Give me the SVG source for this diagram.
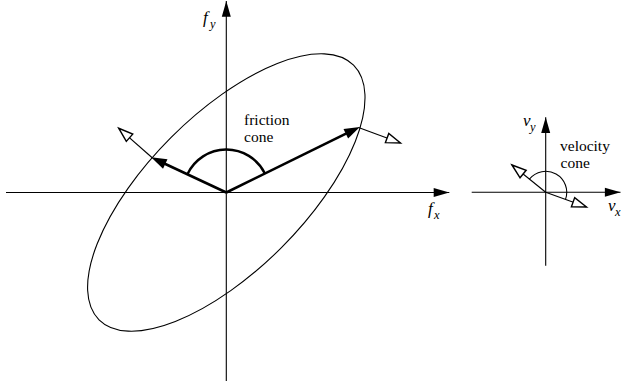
<svg xmlns="http://www.w3.org/2000/svg" width="621" height="386" viewBox="0 0 621 386">
<style>
.ln{stroke:#000;stroke-width:1.1;fill:none}
.thick{stroke:#000;stroke-width:2.6;fill:none}
.arc{stroke:#000;stroke-width:2.4;fill:none}
.txt{font-family:"Liberation Serif","Times New Roman",serif;font-size:15.5px;fill:#000}
.it{font-family:"Liberation Serif","Times New Roman",serif;font-style:italic;fill:#000}
</style>
<defs>
<marker id="axisHead" markerUnits="userSpaceOnUse" markerWidth="20" markerHeight="20" viewBox="-14 -5 16 10" refX="0" refY="0" orient="auto" overflow="visible">
<path d="M0,0 L-12.5,-3.6 L-12.5,3.6 Z" fill="#000"/>
</marker>
<marker id="thickHead" markerUnits="userSpaceOnUse" markerWidth="20" markerHeight="20" viewBox="-14 -6 16 12" refX="-6" refY="0" orient="auto" overflow="visible">
<path d="M0,0 L-12.5,-4.2 L-12.5,4.2 Z" fill="#000"/>
</marker>
<marker id="openHead" markerUnits="userSpaceOnUse" markerWidth="20" markerHeight="20" viewBox="-12 -5 14 10" refX="0" refY="0" orient="auto" overflow="visible">
<path d="M0,0 L-10,-3.4 L-10,3.4 Z" fill="#fff" stroke="#000" stroke-width="1"/>
</marker>
</defs>

<g id="friction-ellipse">
<ellipse class="ln" cx="226.3" cy="192.5" rx="180" ry="78" transform="rotate(-45 226.3 192.5)"/>
</g>

<g id="connectors">
<line id="fx-axis" class="ln" x1="6" y1="192.5" x2="449.3" y2="192.5" marker-end="url(#axisHead)"/>
<line id="fy-axis" class="ln" x1="226.3" y1="381" x2="226.3" y2="1" marker-end="url(#axisHead)"/>
<line id="cone-left" class="thick" x1="226.3" y1="192.5" x2="157.9" y2="160.5" marker-end="url(#thickHead)"/>
<line id="cone-right" class="thick" x1="226.3" y1="192.5" x2="353.1" y2="130.2" marker-end="url(#thickHead)"/>
<line id="normal-left" class="ln" x1="152.5" y1="158" x2="118.8" y2="128.3" marker-end="url(#openHead)"/>
<line id="normal-right" class="ln" x1="358.5" y1="127.5" x2="400.5" y2="143" marker-end="url(#openHead)"/>
<path id="friction-arc" class="arc" d="M187.4,174.3 A43,43 0 0,1 264.9,173.5"/>

<line id="vx-axis" class="ln" x1="471.7" y1="192.3" x2="620.5" y2="192.3" marker-end="url(#axisHead)"/>
<line id="vy-axis" class="ln" x1="545.7" y1="265.7" x2="545.7" y2="117.3" marker-end="url(#axisHead)"/>
<line id="vel-left" class="ln" x1="545.7" y1="192.3" x2="512" y2="165" marker-end="url(#openHead)"/>
<line id="vel-right" class="ln" x1="545.7" y1="192.3" x2="586.5" y2="207" marker-end="url(#openHead)"/>
<path id="velocity-arc" class="ln" d="M529.4,179.1 A21,21 0 0,1 565.5,199.4"/>
</g>

<g id="label-fy">
<text class="it" x="203" y="23" font-size="17">f<tspan x="210" y="28" font-size="12.5">y</tspan></text>
</g>
<g id="label-fx">
<text class="it" x="428" y="214" font-size="17">f<tspan x="434" y="219" font-size="12.5">x</tspan></text>
</g>
<g id="label-friction-cone">
<text class="txt" x="244" y="124.8">friction<tspan x="244" y="142">cone</tspan></text>
</g>
<g id="label-vy">
<text class="it" x="523" y="125.5" font-size="17">v<tspan x="530" y="130.5" font-size="12.5">y</tspan></text>
</g>
<g id="label-vx">
<text class="it" x="608" y="211" font-size="17">v<tspan x="615" y="215.5" font-size="12.5">x</tspan></text>
</g>
<g id="label-velocity-cone">
<text class="txt" x="560" y="150.8">velocity<tspan x="560.5" y="168">cone</tspan></text>
</g>
</svg>
